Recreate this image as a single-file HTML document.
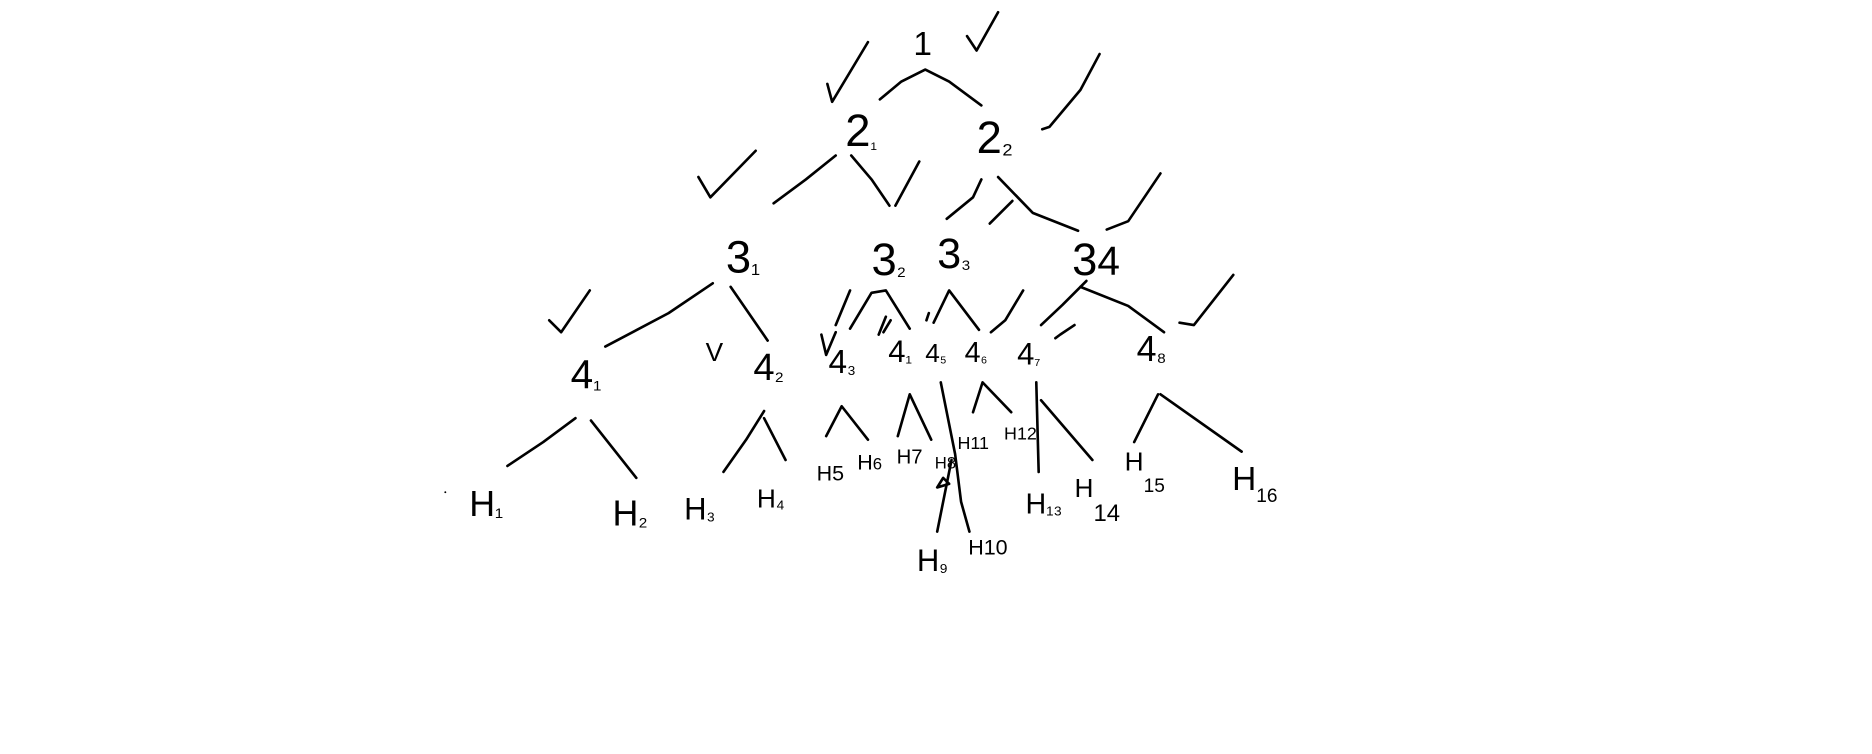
<!DOCTYPE html>
<html><head><meta charset="utf-8"><style>
html,body{margin:0;padding:0;background:#fff;width:1872px;height:754px;overflow:hidden}
svg{display:block}
text{font-family:"Liberation Sans",sans-serif;fill:#000;font-weight:normal}
.s{fill:none;stroke:#000;stroke-width:2.2;stroke-linecap:round;stroke-linejoin:round}
</style></head><body>
<svg width="1872" height="754" viewBox="0 0 1568 631">
<g>
<path class="s" d="M737,83 L755,68 L775,58 L795,68 L822,88"/>
<path class="s" d="M648,170 L675,150 L700,130"/>
<path class="s" d="M713,130 L730,150 L745,172"/>
<path class="s" d="M793,183 L815,165 L822,150"/>
<path class="s" d="M836,148 L865,178 L903,193"/>
<path class="s" d="M507,290 L560,262 L597,237"/>
<path class="s" d="M612,240 L643,285"/>
<path class="s" d="M700,272 L712,243"/>
<path class="s" d="M712,275 L730,245 L742,243 L762,275"/>
<path class="s" d="M782,270 L795,243 L820,276"/>
<path class="s" d="M872,272 L890,255 L910,235"/>
<path class="s" d="M905,240 L945,256 L975,278"/>
<path class="s" d="M425,390 L455,370 L482,350"/>
<path class="s" d="M495,352 L533,400"/>
<path class="s" d="M606,395 L625,368 L640,344"/>
<path class="s" d="M640,350 L658,385"/>
<path class="s" d="M692,365 L705,340 L727,368"/>
<path class="s" d="M752,365 L762,330 L780,368"/>
<path class="s" d="M788,320 L800,380 L805,420 L812,445"/>
<path class="s" d="M797,385 L790,420 L785,445"/>
<path class="s" d="M790,400 L785,408 L795,405 Z"/>
<path class="s" d="M815,345 L823,320 L847,345"/>
<path class="s" d="M868,320 L870,395"/>
<path class="s" d="M872,335 L915,385"/>
<path class="s" d="M950,370 L970,330"/>
<path class="s" d="M972,330 L1040,378"/>
</g>
<g>
<path class="s" d="M693,70 L697,85 L727,35"/>
<path class="s" d="M810,30 L818,42 L836,10"/>
<path class="s" d="M873,108 L879,106 L905,75 L921,45"/>
<path class="s" d="M750,172 L770,135"/>
<path class="s" d="M585,148 L595,165 L633,126"/>
<path class="s" d="M829,187 L848,168"/>
<path class="s" d="M927,192 L945,185 L972,145"/>
<path class="s" d="M460,268 L470,278 L494,243"/>
<path class="s" d="M988,270 L1000,272 L1033,230"/>
<path class="s" d="M688,280 L692,297 L700,278"/>
<path class="s" d="M736,280 L738,275 L742,265 M740,278 L746,268"/>
<path class="s" d="M776,268 L778,262"/>
<path class="s" d="M830,278 L842,268 L857,243"/>
<path class="s" d="M884,283 L888,280 L900,272"/>
</g>
<g>
<text x="765" y="46" font-size="28">1</text>
<text x="708" y="122" font-size="38">2<tspan font-size="16" dy="2">₁</tspan></text>
<text x="818" y="128" font-size="38">2<tspan font-size="24">₂</tspan></text>
<text x="608" y="228" font-size="38">3<tspan font-size="22">₁</tspan></text>
<text x="730" y="230" font-size="38">3<tspan font-size="20">₂</tspan></text>
<text x="785" y="224" font-size="36">3<tspan font-size="20">₃</tspan></text>
<text x="898" y="230" font-size="38">3<tspan font-size="34">4</tspan></text>
<text x="591" y="302" font-size="22">V</text>
<text x="478" y="325" font-size="34">4<tspan font-size="20">₁</tspan></text>
<text x="631" y="318" font-size="32">4<tspan font-size="20">₂</tspan></text>
<text x="694" y="312" font-size="28">4<tspan font-size="18">₃</tspan></text>
<text x="744" y="303" font-size="26">4<tspan font-size="16">₁</tspan></text>
<text x="775" y="303" font-size="22">4<tspan font-size="14">₅</tspan></text>
<text x="808" y="303" font-size="24">4<tspan font-size="14">₆</tspan></text>
<text x="852" y="305" font-size="26">4<tspan font-size="14">₇</tspan></text>
<text x="952" y="302" font-size="30">4<tspan font-size="20">₈</tspan></text>
<text x="393" y="432" font-size="30">H<tspan font-size="20">₁</tspan></text>
<text x="513" y="440" font-size="30">H<tspan font-size="20">₂</tspan></text>
<text x="573" y="435" font-size="26">H<tspan font-size="18">₃</tspan></text>
<text x="634" y="425" font-size="22">H<tspan font-size="18">₄</tspan></text>
<text x="684" y="402" font-size="18">H5</text>
<text x="718" y="393" font-size="18">H<tspan font-size="14">6</tspan></text>
<text x="751" y="388" font-size="17">H7</text>
<text x="783" y="392" font-size="14">H8</text>
<text x="768" y="478" font-size="26">H<tspan font-size="18">₉</tspan></text>
<text x="811" y="464" font-size="18">H10</text>
<text x="802" y="376" font-size="15">H11</text>
<text x="841" y="368" font-size="15">H12</text>
<text x="859" y="430" font-size="24">H<tspan font-size="18">₁₃</tspan></text>
<text x="900" y="416" font-size="22">H<tspan font-size="20" dy="20">14</tspan></text>
<text x="942" y="394" font-size="22">H<tspan font-size="16" dy="18">15</tspan></text>
<text x="1032" y="410" font-size="28">H<tspan font-size="16" dy="10">16</tspan></text>
</g>
<circle cx="373" cy="412" r="0.8" fill="#000"/>
</svg>
</body></html>
